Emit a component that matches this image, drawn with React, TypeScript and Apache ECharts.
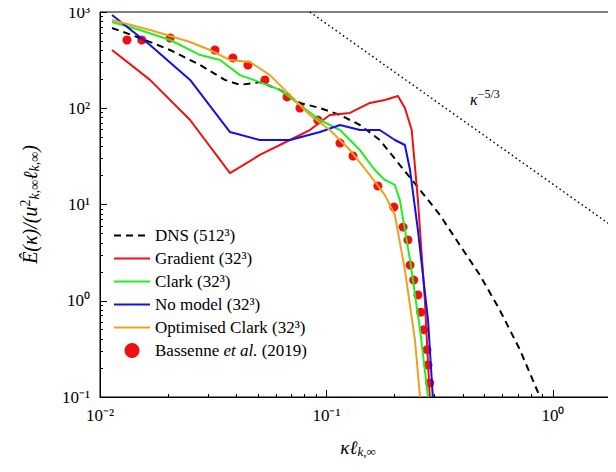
import { useEffect, useRef } from 'react';
import * as echarts from 'echarts';

const dnsX = [0.0113, 0.01502, 0.0204, 0.0277, 0.0356, 0.0415, 0.0508, 0.0624, 0.0764, 0.0936, 0.1148, 0.1406, 0.172, 0.211, 0.259, 0.317, 0.388, 0.476, 0.583, 0.715, 0.833, 0.877];
const dnsY = [682, 537, 403, 281, 197, 175, 187, 155, 113.5, 100.6, 85.1, 67, 46.8, 25.7, 14.2, 7.78, 3.79, 1.85, 0.8, 0.31, 0.133, 0.1];

const gradX = [0.0113, 0.01663, 0.025, 0.0375, 0.0508, 0.069, 0.0845, 0.1035, 0.127, 0.1556, 0.181, 0.207, 0.222, 0.238, 0.2535, 0.272, 0.286];
const gradY = [403, 197, 75.5, 21.2, 32.7, 46.8, 59.4, 85.1, 89.3, 113.5, 122, 134, 100.6, 59.4, 11.1, 1.02, 0.1];

const clarkX = [0.0113, 0.01502, 0.0204, 0.0277, 0.0339, 0.0415, 0.0508, 0.0624, 0.0764, 0.0936, 0.1148, 0.127, 0.1406, 0.1637, 0.181, 0.2005, 0.211, 0.234, 0.259, 0.281];
const clarkY = [787, 650, 512, 357, 317, 221, 187, 155, 108, 75.5, 59.4, 46.8, 36.8, 22.8, 18.0, 16.0, 11.1, 2.65, 0.5, 0.1];

const noModelX = [0.0113, 0.01663, 0.025, 0.0375, 0.0508, 0.069, 0.0936, 0.1148, 0.1406, 0.172, 0.2005, 0.222, 0.234, 0.2535, 0.281, 0.295];
const noModelY = [931, 454, 197, 56.6, 46.8, 46.8, 56.6, 67, 59.4, 59.4, 46.8, 41.5, 22.8, 5.43, 0.63, 0.1];

const optX = [0.0113, 0.01663, 0.025, 0.0306, 0.0375, 0.0459, 0.0563, 0.069, 0.0845, 0.1035, 0.127, 0.1556, 0.181, 0.2005, 0.222, 0.246, 0.259];
const optY = [826, 650, 488, 403, 317, 303, 221, 137, 85.1, 59.4, 36.8, 20.2, 12.6, 7.78, 2.09, 0.39, 0.1];

const bassX = [0.01316, 0.0153, 0.0204, 0.0322, 0.0386, 0.045, 0.0535, 0.067, 0.0764, 0.0916, 0.1148, 0.131, 0.1687, 0.1986, 0.218, 0.229, 0.234, 0.243, 0.2535, 0.261, 0.269, 0.278, 0.281, 0.286];
const bassY = [512, 512, 537, 403, 333, 281, 197, 131, 100.6, 75.5, 43.5, 31.9, 15.6, 9.4, 5.83, 4.28, 2.35, 1.64, 1.15, 0.76, 0.5, 0.31, 0.215, 0.14];

const slopeX = [0.0845, 2];
const slopeY = [1000, 1000 * Math.pow(2 / 0.0845, -5 / 3)];

const lineNames = ['DNS (512³)', 'Gradient (32³)', 'Clark (32³)', 'No model (32³)', 'Optimised Clark (32³)'];
const dotName = 'Bassenne et al. (2019)';

const zip = (xs: number[], ys: number[]) => xs.map((x, i) => [x, ys[i]]);

const sup: Record<string, string> = { '-': '⁻', '0': '⁰', '1': '¹', '2': '²', '3': '³' };
const powLabel = (v: number) => {
  const e = Math.round(Math.log10(v));
  return '10' + String(e).split('').map((c) => sup[c]).join('');
};

const FONT = 'Liberation Serif';

export default function App() {
  const ref = useRef<HTMLDivElement>(null);

  useEffect(() => {
    if (!ref.current) return;
    const chart = echarts.init(ref.current, null, { renderer: 'svg' });
    const line = (name: string, xs: number[], ys: number[], color: string, type: any = 'solid') => ({
      name,
      type: 'line',
      data: zip(xs, ys),
      showSymbol: false,
      symbol: 'none',
      lineStyle: { color, width: 2, type },
      itemStyle: { color },
    });
    chart.setOption({
      animation: false,
      textStyle: { fontFamily: FONT },
      grid: { left: 100, right: 0, top: 12, bottom: 75, show: true, borderColor: '#000', borderWidth: 1 },
      legend: {
        left: 108,
        top: 222,
        orient: 'vertical',
        itemGap: 6,
        itemWidth: 36,
        itemHeight: 15,
        textStyle: {
          fontFamily: FONT,
          fontSize: 17,
          color: '#000',
          rich: {
            n: { fontSize: 17, fontFamily: FONT, color: '#000' },
            it: { fontStyle: 'italic', fontSize: 17, fontFamily: FONT, color: '#000' },
          },
        },
        formatter: (n: string) => (n === dotName ? '{n|Bassenne }{it|et al.}{n| (2019)}' : `{n|${n}}`),
        data: [
          ...lineNames.map((name) => ({ name, itemStyle: { opacity: 0 } })),
          { name: dotName, icon: 'circle' },
        ],
      },
      xAxis: {
        type: 'log',
        min: 0.01,
        max: 1.9,
        logBase: 10,
        name: '{a|κℓ}{s|k,∞}',
        nameLocation: 'middle',
        nameGap: 40,
        nameTextStyle: {
          rich: {
            a: { fontSize: 19, fontStyle: 'italic', fontFamily: FONT, color: '#000' },
            s: { fontSize: 13, fontStyle: 'italic', fontFamily: FONT, color: '#000', padding: [8, 0, 0, 0] },
          },
        },
        axisLine: { lineStyle: { color: '#000' } },
        axisTick: { inside: true, length: 7, lineStyle: { color: '#000' } },
        minorTick: { show: true, splitNumber: 9 },
        splitLine: { show: false },
        axisLabel: { formatter: powLabel, fontSize: 17, color: '#000', margin: 10, fontFamily: FONT, showMaxLabel: false },
      },
      yAxis: {
        type: 'log',
        min: 0.1,
        max: 1000,
        name: '{a|Ê(κ)/(u}{p|2}{s|k,∞}{a|ℓ}{s|k,∞}{a|)}',
        nameLocation: 'middle',
        nameGap: 58,
        nameTextStyle: {
          rich: {
            a: { fontSize: 20, fontStyle: 'italic', fontFamily: FONT, color: '#000' },
            p: { fontSize: 14, fontFamily: FONT, color: '#000', padding: [0, 0, 10, 0] },
            s: { fontSize: 14, fontStyle: 'italic', fontFamily: FONT, color: '#000', padding: [8, 0, 0, 0] },
          },
        },
        axisLine: { lineStyle: { color: '#000' } },
        axisTick: { inside: true, length: 7, lineStyle: { color: '#000' } },
        minorTick: { show: true, splitNumber: 9 },
        splitLine: { show: false },
        axisLabel: { formatter: powLabel, fontSize: 17, color: '#000', margin: 10, fontFamily: FONT },
      },
      series: [
        line(lineNames[0], dnsX, dnsY, '#000', [7, 5]),
        line(lineNames[1], gradX, gradY, '#f01010'),
        line(lineNames[2], clarkX, clarkY, '#22ee22'),
        line(lineNames[3], noModelX, noModelY, '#1010ee'),
        line(lineNames[4], optX, optY, '#f0a020'),
        {
          name: dotName,
          type: 'scatter',
          data: zip(bassX, bassY),
          symbolSize: 9,
          itemStyle: { color: '#f01010', opacity: 1 },
        },
        {
          type: 'line',
          data: zip(slopeX, slopeY),
          showSymbol: false,
          symbol: 'none',
          lineStyle: { color: '#000', width: 1.5, type: [1.5, 3] },
        },
      ],
      graphic: [
        {
          type: 'text',
          left: 470,
          top: 88,
          style: {
            text: '{a|κ}{p|−5/3}',
            rich: {
              a: { fontSize: 16, fontStyle: 'italic', fontFamily: FONT },
              p: { fontSize: 12, fontFamily: FONT, padding: [0, 0, 10, 0] },
            },
          },
        },
      ],
    });
    return () => chart.dispose();
  }, []);

  return <div ref={ref} style={{ width: 616, height: 472, margin: -8 }} />;
}
